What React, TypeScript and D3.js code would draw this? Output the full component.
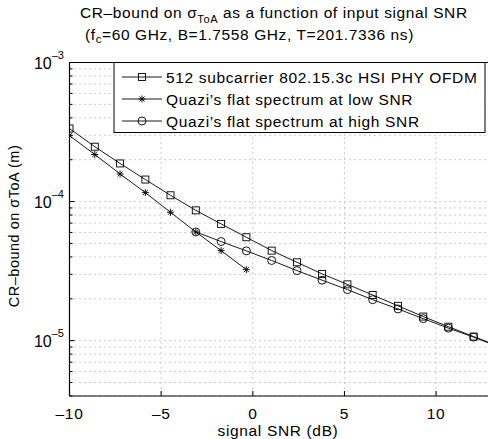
import React, { useEffect } from 'react'
import * as d3 from 'd3'

// signal SNR in dB
const snrDb = [-10, -8.62, -7.24, -5.86, -4.49, -3.11, -1.73, -0.35, 1.03, 2.41, 3.78, 5.16, 6.54, 7.92, 9.3, 10.67, 12.05, 13.43]
// 512 subcarrier 802.15.3c HSI PHY OFDM
const ofdmBound = [3.35e-4, 2.48e-4, 1.88e-4, 1.44e-4, 1.11e-4, 8.65e-5, 6.91e-5, 5.54e-5, 4.44e-5, 3.66e-5, 3.02e-5, 2.54e-5, 2.13e-5, 1.78e-5, 1.49e-5, 1.26e-5, 1.07e-5, 9.1e-6]
// Quazi's flat spectrum at low SNR (first 8 SNR points)
const lowSnrBound = [2.98e-4, 2.18e-4, 1.58e-4, 1.16e-4, 8.37e-5, 6.05e-5, 4.44e-5, 3.24e-5]
// Quazi's flat spectrum at high SNR (from the 6th SNR point on)
const highSnrBound = [6.05e-5, 5.16e-5, 4.42e-5, 3.77e-5, 3.19e-5, 2.72e-5, 2.33e-5, 1.97e-5, 1.69e-5, 1.44e-5, 1.23e-5, 1.06e-5, 9.0e-6]
const highSnrStart = 5

const xTicks = [-10, -5, 0, 5, 10]
const yDecades = [-5, -4, -3]
const legendLabels = ['512 subcarrier 802.15.3c HSI PHY OFDM', 'Quazi\u2019s flat spectrum at low SNR', 'Quazi\u2019s flat spectrum at high SNR']

const W = 488, H = 439
const left = 69.5, top = 62.5, bottom = 396
const font = '"Liberation Sans", Arial, Helvetica, sans-serif'
const fs = 15.5
const txt = { letterSpacing: '0.65px' }
const titleTxt = { letterSpacing: '0.6px' }

const x = d3.scaleLinear().domain([-10, 13]).range([left, left + 23 * 18.33])
const y = d3.scaleLog().domain([4e-6, 1e-3]).range([bottom, top])

type Pt = [number, number]

function Marker({ kind, cx, cy }: { kind: string, cx: number, cy: number }) {
  if (kind === 'square') return <rect x={cx - 3.5} y={cy - 3.5} width={7} height={7} fill="none" stroke="#000" strokeWidth={0.9} />
  if (kind === 'circle') return <circle cx={cx} cy={cy} r={4} fill="none" stroke="#000" strokeWidth={0.9} />
  const r = 3.5, d = r * 0.72
  return (
    <path d={`M${cx - r},${cy}H${cx + r}M${cx},${cy - r}V${cy + r}M${cx - d},${cy - d}L${cx + d},${cy + d}M${cx - d},${cy + d}L${cx + d},${cy - d}`}
      stroke="#000" strokeWidth={0.9} fill="none" />
  )
}

export default function App() {
  useEffect(() => { document.body.style.margin = '0' }, [])

  const line = d3.line<Pt>().x(d => x(d[0])).y(d => y(d[1]))
  const series = [
    { kind: 'square', pts: ofdmBound.map((v, i) => [snrDb[i], v] as Pt) },
    { kind: 'star', pts: lowSnrBound.map((v, i) => [snrDb[i], v] as Pt) },
    { kind: 'circle', pts: highSnrBound.map((v, i) => [snrDb[i + highSnrStart], v] as Pt) },
  ]

  const minor: number[] = []
  for (let e = -6; e < -3; e++) for (let m = 2; m <= 9; m++) {
    const v = m * Math.pow(10, e)
    if (v >= 4e-6 && v < 1e-3) minor.push(v)
  }
  const right = x.range()[1]

  return (
    <svg width={W} height={H} style={{ display: 'block', background: '#fff' }} fontFamily={font}>
      <defs>
        <clipPath id="plot"><rect x={left} y={top} width={right - left} height={bottom - top} /></clipPath>
      </defs>
      {/* grid */}
      <g stroke="#9a9a9a" strokeWidth={1} strokeDasharray="1 4">
        {xTicks.slice(1).map(t => <line key={t} x1={x(t)} x2={x(t)} y1={top} y2={bottom} />)}
        {minor.concat(yDecades.map(e => Math.pow(10, e))).map(v => <line key={v} x1={left} x2={right} y1={y(v)} y2={y(v)} />)}
      </g>
      {/* ticks */}
      <g stroke="#000" strokeWidth={1}>
        {xTicks.map(t => <line key={'b' + t} x1={x(t)} x2={x(t)} y1={bottom} y2={bottom - 5} />)}
        {xTicks.map(t => <line key={'t' + t} x1={x(t)} x2={x(t)} y1={top} y2={top + 5} />)}
        {yDecades.map(e => <line key={e} x1={left} x2={left + 5} y1={y(Math.pow(10, e))} y2={y(Math.pow(10, e))} />)}
        {minor.map(v => <line key={v} x1={left} x2={left + 3} y1={y(v)} y2={y(v)} />)}
      </g>
      {/* data */}
      <g clipPath="url(#plot)">
        {series.map(s => (
          <g key={s.kind}>
            <path d={line(s.pts) || ''} fill="none" stroke="#000" strokeWidth={0.9} />
            {s.pts.map((p, i) => <Marker key={i} kind={s.kind} cx={x(p[0])} cy={y(p[1])} />)}
          </g>
        ))}
      </g>
      {/* axes box */}
      <g stroke="#000" strokeWidth={1.2} fill="none">
        <line x1={left} x2={right} y1={bottom} y2={bottom} />
        <line x1={left} x2={right} y1={top} y2={top} />
        <line x1={left} x2={left} y1={top} y2={bottom} />
      </g>
      {/* tick labels */}
      <g fill="#000">
        {xTicks.map(t => (
          <text key={t} x={x(t)} y={418.5} textAnchor="middle" fontSize={15.5} style={txt}>{t < 0 ? '\u2013' + Math.abs(t) : t}</text>
        ))}
        {yDecades.map(e => (
          <text key={e} x={64} y={y(Math.pow(10, e)) + 6.5} textAnchor="end" fontSize={16}>10
            <tspan fontSize={11} dy={-10}>{'\u2013' + Math.abs(e)}</tspan>
          </text>
        ))}
      </g>
      {/* legend */}
      <g>
        <rect x={114} y={top} width={371} height={70} fill="#fff" stroke="#000" strokeWidth={1} />
        {legendLabels.map((lab, i) => {
          const cy = 77 + i * 22
          const kind = series[i].kind
          return (
            <g key={lab}>
              <line x1={122} x2={162} y1={cy} y2={cy} stroke="#000" strokeWidth={0.9} />
              <Marker kind={kind} cx={142} cy={cy} />
              <text x={166} y={cy + 5.5} fontSize={fs} style={txt}>{lab}</text>
            </g>
          )
        })}
      </g>
      {/* titles */}
      <text x={80} y={18} fontSize={fs} style={titleTxt}>CR{'\u2013'}bound on {'\u03c3'}
        <tspan fontSize={11} dy={5}>ToA</tspan>
        <tspan dy={-5}> as a function of input signal SNR</tspan>
      </text>
      <text x={85} y={39.5} fontSize={fs} style={titleTxt}>(f
        <tspan fontSize={11.5} dy={3}>c</tspan>
        <tspan dy={-3}>=60 GHz, B=1.7558 GHz, T=201.7336 ns)</tspan>
      </text>
      <text x={278} y={435.5} fontSize={fs} textAnchor="middle" style={txt}>signal SNR (dB)</text>
      <text transform={`translate(19,226) rotate(-90)`} fontSize={14.5} textAnchor="middle" style={{ letterSpacing: '0.5px' }}>CR{'\u2013'}bound on {'\u03c3'}ToA (m)</text>
    </svg>
  )
}
